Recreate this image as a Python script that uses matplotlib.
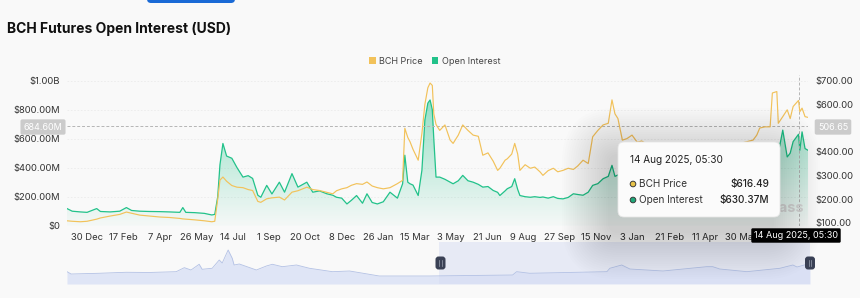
import matplotlib.pyplot as plt
import matplotlib.dates as mdates
from matplotlib.patches import FancyBboxPatch, Circle, Patch
from matplotlib.transforms import IdentityTransform
from matplotlib.colors import to_rgb
import numpy as np
import pandas as pd

plt.rcParams['font.family'] = ['Inter', 'DejaVu Sans']

# main series (OI in $M, BCH price in $)
dates = ['2022-12-03', '2022-12-10', '2022-12-21', '2022-12-30', '2023-01-12', '2023-01-17', '2023-01-30', '2023-02-12', '2023-02-21', '2023-02-28',
         '2023-03-11', '2023-03-24', '2023-04-07', '2023-04-20', '2023-05-04', '2023-05-08', '2023-05-12', '2023-05-24', '2023-06-06', '2023-06-16',
         '2023-06-20', '2023-06-24', '2023-06-27', '2023-07-01', '2023-07-06', '2023-07-13', '2023-07-20', '2023-07-28', '2023-08-04', '2023-08-10',
         '2023-08-17', '2023-08-21', '2023-08-29', '2023-09-05', '2023-09-15', '2023-09-22', '2023-10-02', '2023-10-10', '2023-10-22', '2023-10-30',
         '2023-11-08', '2023-11-18', '2023-11-26', '2023-12-01', '2023-12-08', '2023-12-15', '2023-12-21', '2023-12-28', '2024-01-05', '2024-01-11',
         '2024-01-18', '2024-01-25', '2024-02-02', '2024-02-11', '2024-02-21', '2024-02-28', '2024-03-02', '2024-03-06', '2024-03-09', '2024-03-13',
         '2024-03-20', '2024-03-25', '2024-03-29', '2024-04-02', '2024-04-05', '2024-04-08', '2024-04-10', '2024-04-13', '2024-04-18', '2024-04-25',
         '2024-05-02', '2024-05-06', '2024-05-13', '2024-05-19', '2024-05-26', '2024-06-02', '2024-06-09', '2024-06-15', '2024-06-22', '2024-06-29',
         '2024-07-05', '2024-07-08', '2024-07-15', '2024-07-18', '2024-07-24', '2024-07-28', '2024-08-01', '2024-08-04', '2024-08-11', '2024-08-18',
         '2024-08-24', '2024-08-31', '2024-09-04', '2024-09-11', '2024-09-18', '2024-09-24', '2024-10-01', '2024-10-08', '2024-10-15', '2024-10-21',
         '2024-10-28', '2024-11-04', '2024-11-10', '2024-11-17', '2024-11-24', '2024-12-01', '2024-12-06', '2024-12-10', '2024-12-14', '2024-12-20',
         '2024-12-26', '2025-01-02', '2025-01-09', '2025-01-15', '2025-01-23', '2025-02-02', '2025-02-15', '2025-03-01', '2025-03-14', '2025-03-28',
         '2025-04-10', '2025-04-24', '2025-05-07', '2025-05-21', '2025-06-03', '2025-06-14', '2025-06-19', '2025-06-23', '2025-06-30', '2025-07-07',
         '2025-07-10', '2025-07-16', '2025-07-18', '2025-07-24', '2025-07-30', '2025-08-03', '2025-08-07', '2025-08-14 05:30', '2025-08-16', '2025-08-19',
         '2025-08-23', '2025-08-27']

open_interest_m = [118, 100, 95, 92, 118, 98, 95, 100, 125, 105,
                   100, 98, 97, 95, 92, 125, 92, 90, 85, 74,
                   78, 200, 420, 567, 480, 465, 400, 335, 345, 326,
                   210, 196, 278, 219, 300, 231, 359, 266, 300, 231,
                   240, 220, 210, 196, 190, 150, 175, 208, 155, 220,
                   160, 150, 165, 231, 190, 289, 486, 300, 289, 280,
                   208, 382, 729, 845, 867, 800, 600, 335, 335, 320,
                   300, 289, 310, 347, 310, 300, 285, 266, 270, 243,
                   230, 208, 240, 255, 270, 324, 250, 208, 200, 196,
                   200, 195, 198, 190, 200, 188, 185, 195, 220, 215,
                   210, 231, 278, 290, 324, 340, 416, 340, 350, 330,
                   320, 310, 300, 290, 280, 260, 240, 220, 230, 250,
                   260, 270, 290, 320, 380, 430, 560, 420, 440, 460,
                   520, 560, 500, 659, 474, 500, 580, 630.37, 520, 647,
                   532, 520]

bch_price = [108, 106, 104, 106, 115, 120, 128, 135, 145, 140,
             132, 128, 124, 122, 118, 116, 115, 112, 108, 104,
             106, 200, 280, 293, 275, 257, 250, 248, 240, 236,
             190, 186, 201, 205, 208, 196, 229, 235, 250, 240,
             236, 228, 222, 235, 243, 248, 258, 265, 262, 272,
             255, 248, 243, 248, 265, 279, 499, 460, 442, 410,
             364, 477, 600, 670, 690, 680, 560, 515, 490, 513,
             449, 435, 470, 513, 490, 470, 465, 385, 395, 360,
             321, 330, 364, 370, 390, 435, 390, 321, 345, 330,
             335, 315, 300, 320, 330, 315, 321, 330, 325, 340,
             364, 350, 463, 490, 513, 520, 619, 560, 540, 449,
             455, 470, 440, 445, 430, 400, 340, 320, 330, 340,
             345, 390, 410, 430, 440, 449, 470, 500, 505, 505,
             648, 654, 520, 548, 577, 540, 591, 616.49, 569, 584,
             548, 545]

# navigator (full history, $M)
nav_dates = ['2020-03-05', '2020-03-16', '2020-05-30', '2020-08-11', '2020-10-12', '2020-12-24', '2021-01-15', '2021-02-02', '2021-02-24', '2021-03-04',
             '2021-03-31', '2021-04-19', '2021-04-27', '2021-05-13', '2021-05-24', '2021-05-29', '2021-06-12', '2021-07-28', '2021-08-24', '2021-09-09',
             '2021-10-06', '2021-11-13', '2021-12-18', '2022-02-18', '2022-04-05', '2022-05-02', '2022-06-24', '2022-11-06', '2023-06-18', '2023-06-29',
             '2023-08-03', '2024-02-27', '2024-03-06', '2024-04-07', '2024-04-29', '2024-07-27', '2024-11-22', '2024-12-08', '2024-12-27', '2025-03-10',
             '2025-06-07', '2025-07-12', '2025-07-23', '2025-08-19', '2025-08-27']
nav_oi_m = [308, 250, 268, 293, 288, 308, 408, 350, 493, 368,
            393, 600, 525, 850, 643, 475, 500, 350, 450, 493,
            433, 475, 393, 308, 325, 283, 200, 200, 225, 308,
            268, 308, 393, 475, 375, 325, 433, 433, 375, 308,
            393, 475, 425, 493, 480]

tick_labels = ['30 Dec', '17 Feb', '7 Apr', '26 May', '14 Jul', '1 Sep', '20 Oct', '8 Dec', '26 Jan', '15 Mar',
               '3 May', '21 Jun', '9 Aug', '27 Sep', '15 Nov', '3 Jan', '21 Feb', '11 Apr', '30 May']
tick_dates = pd.date_range('2022-12-30', periods=len(tick_labels), freq='49D')

oi_ticks = [0, 200e6, 400e6, 600e6, 800e6, 1e9]
oi_tick_labels = ['$0', '$200.00M', '$400.00M', '$600.00M', '$800.00M', '$1.00B']
price_ticks = [100, 200, 300, 400, 500, 600, 700]
price_tick_labels = ['$100.00', '$200.00', '$300.00', '$400.00', '', '$600.00', '$700.00']

W, H = 860, 298
def fx(x):
    return x / W
def fy(y):
    return 1 - y / H

green = '#22c28a'
orange = '#f2c25a'
txt = '#333333'
ID = IdentityTransform()

fig = plt.figure(figsize=(8.6, 2.98), dpi=100)
fig.patch.set_facecolor('#f9f9f9')

# top blue tab
fig.add_artist(FancyBboxPatch((147, H - 3), 88, 12, boxstyle='round,pad=0,rounding_size=4',
                              fc='#1a6ad6', ec='none', transform=ID))

fig.text(fx(7), fy(29), 'BCH Futures Open Interest (USD)', fontsize=10, fontweight='bold',
         color='#111111', va='center', ha='left')

legend_handles = [Patch(fc=orange, ec='none'), Patch(fc=green, ec='none')]
fig.legend(legend_handles, ['BCH Price', 'Open Interest'], loc='center', bbox_to_anchor=(fx(435), fy(61)),
           ncol=2, frameon=False, fontsize=6.5, handlelength=0.7, handleheight=0.7,
           handletextpad=0.4, columnspacing=1.0, labelcolor='#444444')

x = pd.to_datetime(dates, format='ISO8601')
oi = np.array(open_interest_m) * 1e6

ax = fig.add_axes([fx(67), fy(225.7), 741 / W, 150.7 / H])
ax.set_facecolor('none')
ax2 = ax.twinx()

xmin, xmax = pd.Timestamp('2022-12-03'), pd.Timestamp('2025-08-27')
oi_top = 1.039e9

# gradient fill under OI
fill = ax.fill_between(x, oi, 0, color='none', lw=0)
grad = np.zeros((256, 1, 4))
grad[..., :3] = to_rgb(green)
grad[..., 3] = np.linspace(0.02, 0.55, 256).reshape(-1, 1)
im = ax.imshow(grad, extent=[mdates.date2num(xmin), mdates.date2num(xmax), 0, oi_top],
               aspect='auto', origin='lower', zorder=2)
im.set_clip_path(fill.get_paths()[0], transform=ax.transData)

ax.plot(x, oi, color=green, lw=0.9, zorder=3)
ax2.plot(x, bch_price, color=orange, lw=0.85, zorder=3)

ax.set_xlim(xmin, xmax)
ax.set_ylim(0, oi_top)
ax2.set_ylim(87.3, 724)

ax.set_yticks(oi_ticks)
ax.set_yticklabels(oi_tick_labels)
ax2.set_yticks(price_ticks)
ax2.set_yticklabels(price_tick_labels)
ax.set_xticks(tick_dates)
ax.set_xticklabels(tick_labels)
ax.tick_params(axis='y', length=0, labelsize=6.8, colors=txt, pad=5)
ax2.tick_params(axis='y', length=0, labelsize=6.8, colors=txt, pad=5)
ax.tick_params(axis='x', length=0, labelsize=6.8, colors=txt, pad=5)
for a in (ax, ax2):
    for s in a.spines.values():
        s.set_visible(False)
ax.grid(axis='y', color='#ebebeb', lw=0.6, ls=(0, (2, 2)))
ax.set_axisbelow(True)

# crosshair
cross_t = pd.Timestamp('2025-08-14 05:30')
ax.axvline(cross_t, color='#b5b5b5', lw=0.7, ls=(0, (3, 2)), zorder=5)
ax.axhline(684.6e6, color='#b5b5b5', lw=0.7, ls=(0, (3, 2)), zorder=5)

fig.text(fx(43), fy(127), '684.60M', ha='center', va='center', fontsize=6.5, color='white', zorder=6,
         bbox=dict(boxstyle='round,pad=0.35,rounding_size=0.2', fc='#cbcbcb', ec='none'))
fig.text(fx(833), fy(127), '506.65', ha='center', va='center', fontsize=6.5, color='white', zorder=6,
         bbox=dict(boxstyle='round,pad=0.35,rounding_size=0.2', fc='#cbcbcb', ec='none'))
fig.text(fx(796), fy(235.5), '14 Aug 2025, 05:30', ha='center', va='center', fontsize=6.5, color='white', zorder=6,
         bbox=dict(boxstyle='round,pad=0.3,rounding_size=0.15', fc='black', ec='none'))

# watermark (mostly hidden by the tooltip)
fig.text(fx(804), fy(208), 'coinglass', ha='right', va='center', fontsize=10.5, fontweight='bold',
         color='#d6d6d6', zorder=2)

# navigator
nav = fig.add_axes([fx(67), fy(284), 743 / W, 42 / H])
nav.set_facecolor('none')
nx = pd.to_datetime(nav_dates)
nav.fill_between(nx, nav_oi_m, 0, color='#dfe5f6', lw=0)
nav.plot(nx, nav_oi_m, color='#b3c1e5', lw=0.6)
nav.axvspan(xmin, xmax, color='#d7ddf3', alpha=0.5, lw=0)
nav.set_xlim(pd.Timestamp('2020-03-05'), xmax)
nav.set_ylim(0, 1050)
nav.axis('off')
for hx in (440.5, 810):
    fig.add_artist(FancyBboxPatch((hx - 5, H - 263 - 6.5), 10, 13, boxstyle='round,pad=0,rounding_size=3',
                                  fc='#3a4155', ec='none', transform=ID, zorder=3))
    for dx in (-1.3, 1.3):
        fig.add_artist(plt.Line2D([hx + dx, hx + dx], [H - 266, H - 260], color='#9aa0b0', lw=0.5,
                                  transform=ID, zorder=3.5))

# tooltip with soft shadow
tx0, ty0, tw, th = 618, H - 217, 162, 75
for i in range(22):
    p = 2 + i * 2.2
    fig.add_artist(FancyBboxPatch((tx0 - p - 8, ty0 - p - 14), tw + 2 * p, th + 2 * p,
                                  boxstyle='round,pad=0,rounding_size=%f' % (8 + p), fc='black', ec='none',
                                  alpha=0.008, transform=ID, zorder=3.8))
fig.add_artist(FancyBboxPatch((tx0, ty0), tw, th, boxstyle='round,pad=0,rounding_size=6',
                              fc='#fbfbfb', ec='#e6e6e6', lw=0.6, transform=ID, zorder=4))
fig.text(fx(630), fy(160), '14 Aug 2025, 05:30', ha='left', va='center', fontsize=7.2, color='#222222', zorder=5)
rows = [('BCH Price', '$616.49', '#e8c348', 184), ('Open Interest', '$630.37M', '#1fa97a', 200)]
for name, val, c, yy in rows:
    fig.add_artist(Circle((633, H - yy), 2.8, fc=c, ec='#3a3a3a', lw=0.7, transform=ID, zorder=5))
    fig.text(fx(639), fy(yy), name, ha='left', va='center', fontsize=7.2, color='#333333', zorder=5)
    fig.text(fx(769), fy(yy), val, ha='right', va='center', fontsize=7.2, color='#222222',
             fontweight='medium', zorder=5)

fig.savefig('out.png', dpi=100, facecolor=fig.get_facecolor())
